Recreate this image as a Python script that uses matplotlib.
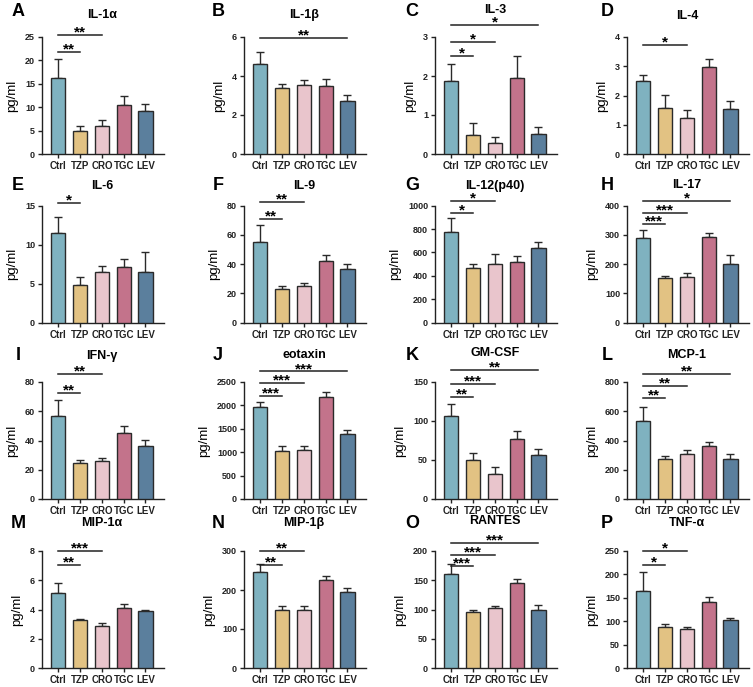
import numpy as np
import matplotlib.pyplot as plt
from matplotlib.transforms import blended_transform_factory, offset_copy

plt.rcParams['font.family'] = ['Liberation Sans', 'DejaVu Sans']
plt.rcParams['font.weight'] = 'bold'

# Groups and colours
groups = ['Ctrl', 'TZP', 'CRO', 'TGC', 'LEV']
colors = ['#7fb2c0', '#e2c283', '#e9c5cc', '#c3738b', '#5b7f9d']

letters = list('ABCDEFGHIJKLMNOP')
titles = ['IL-1α', 'IL-1β', 'IL-3', 'IL-4',
          'IL-6', 'IL-9', 'IL-12(p40)', 'IL-17',
          'IFN-γ', 'eotaxin', 'GM-CSF', 'MCP-1',
          'MIP-1α', 'MIP-1β', 'RANTES', 'TNF-α']

# mean values (pg/ml), order: Ctrl, TZP, CRO, TGC, LEV
means = [
    [16.2, 5.0, 5.9, 10.5, 9.2],
    [4.62, 3.37, 3.55, 3.50, 2.72],
    [1.87, 0.48, 0.27, 1.96, 0.52],
    [2.50, 1.57, 1.22, 2.97, 1.55],
    [11.5, 4.8, 6.5, 7.2, 6.5],
    [55.0, 23.0, 24.8, 42.5, 36.5],
    [775, 470, 500, 520, 635],
    [290, 152, 157, 292, 200],
    [56.5, 24.7, 26.3, 45.0, 36.3],
    [1960, 1035, 1050, 2170, 1390],
    [106, 49.5, 31.5, 77, 56],
    [535, 275, 305, 360, 272],
    [5.1, 3.25, 2.9, 4.1, 3.9],
    [245, 150, 150, 225, 195],
    [160, 96, 102, 145, 100],
    [165, 88, 83, 140, 102],
]

# upper error (SEM)
errs = [
    [4.0, 1.0, 1.3, 1.9, 1.5],
    [0.60, 0.20, 0.27, 0.35, 0.33],
    [0.43, 0.31, 0.16, 0.55, 0.18],
    [0.20, 0.45, 0.30, 0.27, 0.27],
    [2.0, 1.0, 0.8, 1.0, 2.6],
    [11.5, 2.3, 2.2, 4.0, 3.7],
    [120, 35, 85, 48, 55],
    [28, 8, 14, 14, 30],
    [11.0, 2.3, 2.0, 5.2, 4.0],
    [120, 95, 80, 110, 90],
    [16, 10, 9, 10, 7.5],
    [95, 22, 30, 28, 35],
    [0.7, 0.12, 0.2, 0.25, 0.1],
    [22, 9, 8, 12, 10],
    [18, 4, 4, 7, 8],
    [40, 6, 5, 12, 5],
]

ytops = [25, 6, 3, 4, 15, 80, 1000, 400, 80, 2500, 150, 800, 8, 300, 200, 250]
ysteps = [5, 2, 1, 1, 5, 20, 200, 100, 20, 500, 50, 200, 2, 100, 50, 50]

# significance vs Ctrl: (group index, stars)
sigs = [
    [(1, '**'), (2, '**')],
    [(4, '**')],
    [(1, '*'), (2, '*'), (4, '*')],
    [(2, '*')],
    [(1, '*')],
    [(1, '**'), (2, '**')],
    [(1, '*'), (2, '*')],
    [(1, '***'), (2, '***'), (4, '*')],
    [(1, '**'), (2, '**')],
    [(1, '***'), (2, '***'), (4, '***')],
    [(1, '**'), (2, '***'), (4, '**')],
    [(1, '**'), (2, '**'), (4, '**')],
    [(1, '**'), (2, '***')],
    [(1, '**'), (2, '**')],
    [(1, '***'), (2, '***'), (4, '***')],
    [(1, '*'), (2, '*')],
]
# heights of the significance lines, axes fraction
sig_y = [
    [0.87, 1.02], [0.99], [0.84, 0.96, 1.10], [0.93],
    [1.02], [0.89, 1.03], [0.94, 1.04], [0.84, 0.94, 1.04],
    [0.91, 1.07], [0.88, 0.99, 1.09], [0.87, 0.985, 1.10], [0.86, 0.965, 1.07],
    [0.88, 1.00], [0.88, 1.00], [0.87, 0.97, 1.07], [0.88, 1.00],
]

W, H = 753, 687
fig = plt.figure(figsize=(W / 100, H / 100), dpi=100)

col_x = [42, 244, 435, 627]
row_top = [37, 205.7, 382, 551]
# title centre heights (pixels from top), per panel
title_y = [15, 15, 10, 16,
           186, 186, 186, 185,
           356, 355, 353, 355,
           523, 523, 521, 523]
letter_x = [18, 218, 412, 607]
letter_y = [11, 186, 355, 524]
ax_w, ax_h = 122, 117

x = np.arange(len(groups))
for i in range(16):
    r, c = divmod(i, 4)
    left = col_x[c] / W
    bottom = 1 - (row_top[r] + ax_h) / H
    ax = fig.add_axes([left, bottom, ax_w / W, ax_h / H])

    ax.bar(x, means[i], width=0.65, color=colors, edgecolor='#2a2a2a',
           linewidth=1, zorder=3)
    ax.errorbar(x, means[i], yerr=[np.zeros(5), errs[i]], fmt='none',
                ecolor='#2a2a2a', elinewidth=1, capsize=3, capthick=1, zorder=2)

    ax.set_xlim(-0.75, 4.85)
    ax.set_ylim(0, ytops[i])
    ax.set_yticks(np.arange(0, ytops[i] + ysteps[i] / 2, ysteps[i]))
    ax.set_xticks(x)
    ax.set_xticklabels(groups, family=['Liberation Sans Narrow', 'Liberation Sans'],
                       fontsize=7)
    ax.tick_params(axis='y', labelsize=6.5)
    ax.tick_params(length=3, width=1, pad=2, colors='#222222')
    for s in ['top', 'right']:
        ax.spines[s].set_visible(False)
    for s in ['left', 'bottom']:
        ax.spines[s].set_linewidth(1)
        ax.spines[s].set_color('#222222')
    ax.set_ylabel('pg/ml', fontsize=9.5, labelpad=5)

    tr = blended_transform_factory(ax.transData, ax.transAxes)
    tr_txt = offset_copy(tr, fig=fig, y=-1.5, units='dots')
    for (g, stars), yy in zip(sigs[i], sig_y[i]):
        ax.plot([0, g], [yy, yy], color='#222222', lw=1.1, transform=tr,
                clip_on=False)
        ax.text(g / 2, yy, stars, transform=tr_txt, ha='center',
                va='baseline', fontsize=11, clip_on=False)

    fig.text((col_x[c] + ax_w * (2 + 0.75) / 5.6) / W, 1 - title_y[i] / H,
             titles[i], ha='center', va='center', fontsize=9)
    fig.text(letter_x[c] / W, 1 - letter_y[r] / H, letters[i], ha='center',
             va='center', fontsize=13)

fig.savefig('out.png', dpi=100)
